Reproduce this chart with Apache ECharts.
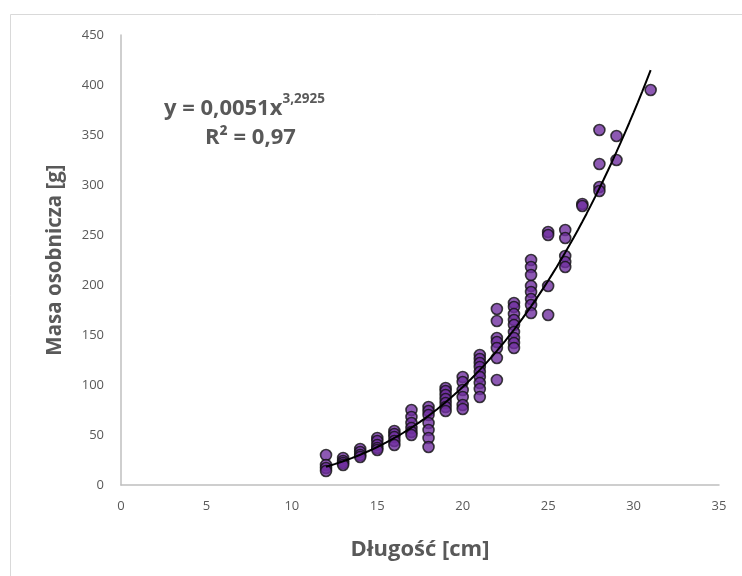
<!DOCTYPE html>
<html>
<head>
<meta charset="utf-8">
<script src="https://cdn.jsdelivr.net/npm/echarts@6/dist/echarts.min.js"></script>
<style>
html,body{margin:0;padding:0;background:#fff;}
#chart{width:742px;height:576px;}
</style>
</head>
<body>
<div id="chart"></div>
<script>
const lengths = [
  12,12,12,12,
  13,13,13,13,
  14,14,14,14,
  15,15,15,15,15,
  16,16,16,16,16,
  17,17,17,17,17,17,
  18,18,18,18,18,18,18,
  19,19,19,19,19,19,19,
  20,20,20,20,20,20,
  21,21,21,21,21,21,21,21,21,
  22,22,22,22,22,22,22,
  23,23,23,23,23,23,23,23,23,
  24,24,24,24,24,24,24,24,
  25,25,25,25,
  26,26,26,26,26,
  27,27,
  28,28,28,28,
  29,29,
  31
];
const masses = [
  30,20,17,14,
  27,24,22,20,
  36,33,30,28,
  47,44,40,37,35,
  54,51,48,44,40,
  75,68,62,57,53,50,
  78,74,70,62,55,47,38,
  97,94,90,86,82,78,74,
  108,103,95,88,80,76,
  130,126,122,118,113,108,102,96,88,
  176,164,147,143,137,127,105,
  182,178,171,165,160,153,147,142,137,
  225,218,210,199,193,186,180,172,
  253,250,199,170,
  255,247,229,223,218,
  281,279,
  355,321,298,294,
  349,325,
  395
];
// Power trendline shown on the chart: y = 0,0051 x^3,2925
const trendA = 0.0051;
const trendB = 3.2925;
const trendFrom = 12;
const trendTo = 31;
const xTicks = [0,5,10,15,20,25,30,35];
const yTicks = [0,50,100,150,200,250,300,350,400,450];

const points = lengths.map((l, i) => [l, masses[i]]);
const trend = [];
for (let x = trendFrom; x <= trendTo + 1e-9; x += 0.25) {
  trend.push([x, trendA * Math.pow(x, trendB)]);
}

const grey = '#595959';
const chart = echarts.init(document.getElementById('chart'));
chart.setOption({
  animation: false,
  backgroundColor: '#fff',
  textStyle: { fontFamily: 'Open Sans' },
  grid: { left: 121, top: 35, width: 598, height: 450 },
  xAxis: {
    type: 'value', min: xTicks[0], max: xTicks[xTicks.length - 1], interval: 5,
    splitLine: { show: false },
    axisLine: { show: true, lineStyle: { color: '#bfbfbf', width: 1.5 } },
    axisTick: { show: false },
    axisLabel: { color: grey, fontSize: 13, margin: 15, fontFamily: 'Open Sans' },
    name: 'Długość [cm]', nameLocation: 'middle', nameGap: 54,
    nameTextStyle: { color: grey, fontSize: 22, fontWeight: 'bold', fontFamily: 'Open Sans' }
  },
  yAxis: {
    type: 'value', min: yTicks[0], max: yTicks[yTicks.length - 1], interval: 50,
    splitLine: { show: false },
    axisLine: { show: true, lineStyle: { color: '#bfbfbf', width: 1.5 } },
    axisTick: { show: false },
    axisLabel: { color: grey, fontSize: 13, margin: 17, fontFamily: 'Open Sans' },
    name: 'Masa osobnicza [g]', nameLocation: 'middle', nameGap: 55,
    nameTextStyle: { color: grey, fontSize: 20.5, fontWeight: 'bold', fontFamily: 'Open Sans' }
  },
  series: [
    {
      type: 'scatter', data: points, symbol: 'circle', symbolSize: 11,
      itemStyle: { color: '#7030A0', borderColor: '#111', borderWidth: 1.6 },
      z: 2
    },
    {
      type: 'line', data: trend, showSymbol: false, smooth: false,
      lineStyle: { color: '#000', width: 2 }, z: 3
    }
  ],
  graphic: [
    { type: 'rect', shape: { x: 10.5, y: 14.5, width: 740, height: 570 },
      style: { fill: 'none', stroke: '#d9d9d9', lineWidth: 1 }, silent: true },
    { type: 'text', left: 164, top: 92,
      style: {
        text: '{m|y = 0,0051x}{s|3,2925}',
        rich: {
          m: { fill: grey, fontSize: 22, fontWeight: 'bold', fontFamily: 'Open Sans', verticalAlign: 'bottom', lineHeight: 28 },
          s: { fill: grey, fontSize: 13.5, fontWeight: 'bold', fontFamily: 'Open Sans', verticalAlign: 'top', lineHeight: 28, padding: [0, 0, 12, 0] }
        }
      } },
    { type: 'text', left: 205, top: 127,
      style: { text: 'R² = 0,97', fill: grey, font: 'bold 22px "Open Sans"' } }
  ]
});
</script>
</body>
</html>
